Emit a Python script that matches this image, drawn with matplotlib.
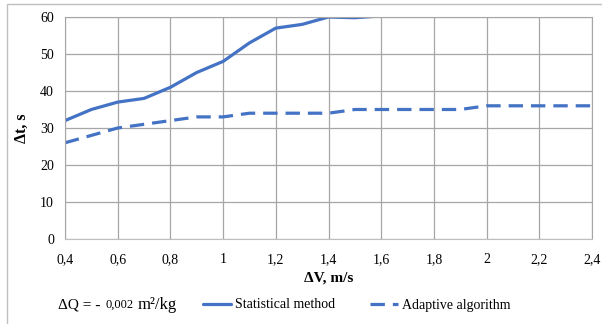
import numpy as np
import matplotlib
matplotlib.use("Agg")
import matplotlib.pyplot as plt
from matplotlib.patches import Rectangle
from matplotlib.ticker import FuncFormatter

# -----------------------------
# DATA
# -----------------------------
dv_stat = [0.4, 0.5, 0.6, 0.7, 0.8, 0.9, 1.0, 1.1, 1.2, 1.3, 1.4, 1.5, 1.6]
dt_stat = [32, 35, 37, 38, 41, 45, 48, 53, 57, 58, 60, 59.8, 60.3]

dv_adapt = [0.4, 0.5, 0.6, 0.7, 0.8, 0.9, 1.0, 1.1, 1.2, 1.3, 1.4, 1.5,
            1.6, 1.7, 1.8, 1.9, 2.0, 2.1, 2.2, 2.3, 2.4]
dt_adapt = [26, 28, 30, 31, 32, 33, 33, 34, 34, 34, 34, 35,
            35, 35, 35, 35, 36, 36, 36, 36, 36]

x_ticks = [0.4, 0.6, 0.8, 1.0, 1.2, 1.4, 1.6, 1.8, 2.0, 2.2, 2.4]
y_ticks = [0, 10, 20, 30, 40, 50, 60]

BLUE = "#4472C4"
GRID = "#A6A6A6"

plt.rcParams['font.family'] = ['Liberation Serif', 'DejaVu Serif']

fig = plt.figure(figsize=(6.02, 3.24), dpi=100)
ax = fig.add_axes([65 / 602, 1 - 239 / 324, (592 - 65) / 602, (239 - 17) / 324])

ax.plot(dv_stat, dt_stat, color=BLUE, lw=2.3, solid_capstyle='round',
        solid_joinstyle='round', label="Statistical method")
ax.plot(dv_adapt, dt_adapt, color=BLUE, lw=2.3, linestyle=(0, (4.5, 2.5)),
        label="Adaptive algorithm")

ax.set_xlim(0.4, 2.4)
ax.set_ylim(0, 60)
ax.set_xticks(x_ticks)
ax.set_yticks(y_ticks)


def comma_fmt(v, pos):
    s = f"{v:.1f}".rstrip("0").rstrip(".")
    return s.replace(".", ",")


ax.xaxis.set_major_formatter(FuncFormatter(comma_fmt))
ax.tick_params(length=0, labelsize=10, pad=10)
ax.tick_params(axis='y', pad=8)
ax.grid(True, color=GRID, lw=0.9)
ax.set_axisbelow(True)
for side in ['top', 'right', 'left']:
    ax.spines[side].set_color(GRID)
ax.spines['bottom'].set_color("#BFBFBF")

ax.set_xlabel("ΔV, m/s", fontsize=11, fontweight='bold', labelpad=4)
ax.set_ylabel("Δt, s", fontsize=11.5, fontweight='bold', labelpad=7)

# outer chart border
fig.patches.append(Rectangle((7 / 602, -0.01), 1.0, 1 - 4 / 324 + 0.01,
                             transform=fig.transFigure, fill=False,
                             edgecolor="#BFBFBF", lw=1.0))

y_note = 1 - 305 / 324
fig.text(58 / 602, y_note, "ΔQ = -", fontsize=11, va='center', ha='left')
fig.text(106 / 602, y_note, "0,002", fontsize=9, va='center', ha='left')
fig.text(138 / 602, y_note, "m²/kg", fontsize=12, va='center', ha='left')

fig.legend(loc='center', bbox_to_anchor=(357 / 602, y_note), ncol=2,
           frameon=False, fontsize=10, handlelength=2.0, columnspacing=2.5,
           handletextpad=0.3)

fig.savefig("out.png", dpi=100)
